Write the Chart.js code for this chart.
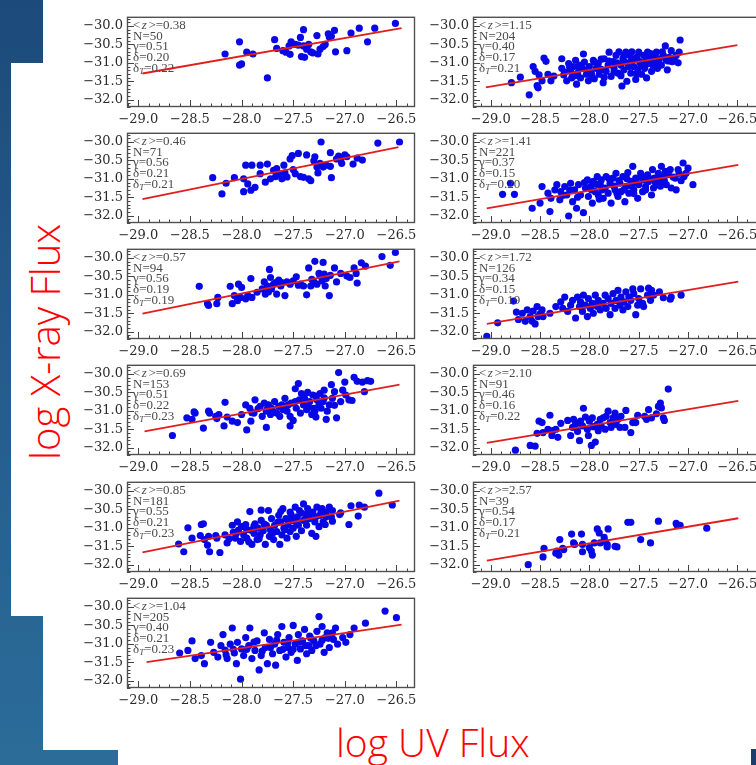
<!DOCTYPE html>
<html>
<head>
<meta charset="utf-8">
<script src="https://cdn.jsdelivr.net/npm/chart.js@4.4.1/dist/chart.umd.min.js"></script>
<style>
  html, body { margin:0; padding:0; }
  body { width:756px; height:765px; overflow:hidden; position:relative;
         background: linear-gradient(180deg, #1c4a7a 0%, #23598a 40%, #2b6c99 100%); }
  .w { position:absolute; background:#ffffff; }
  .navy { position:absolute; background:#1b3c6c; }
  canvas.panel { position:absolute; }
  .biglab { position:absolute; color:#ff0000; font-family:"Open Sans","DejaVu Sans",sans-serif;
            font-weight:300; font-size:39px; white-space:nowrap; line-height:1; }
</style>
</head>
<body>
<div class="w" style="left:43px;top:0;width:713px;height:63px"></div>
<div class="w" style="left:11px;top:63px;width:745px;height:553px"></div>
<div class="w" style="left:43px;top:616px;width:713px;height:134px"></div>
<div class="w" style="left:118px;top:750px;width:633px;height:15px"></div>
<div class="navy" style="left:751px;top:749px;width:5px;height:16px"></div>

<div class="biglab" id="ylab" style="font-size:40px">log X-ray Flux</div>
<div class="biglab" id="xlab">log UV Flux</div>

<script>
// ---------------- data ----------------
const yTicks = [-30.0, -30.5, -31.0, -31.5, -32.0];
const xTicks = [-29.0, -28.5, -28.0, -27.5, -27.0, -26.5];

const zMean  = ['0.38','0.46','0.57','0.69','0.85','1.04','1.15','1.41','1.72','2.10','2.57'];
const nObj   = ['50','71','94','153','181','205','204','221','126','91','39'];
const gamma  = ['0.51','0.56','0.56','0.51','0.55','0.40','0.40','0.37','0.34','0.46','0.54'];
const delta  = ['0.20','0.21','0.19','0.22','0.21','0.21','0.17','0.15','0.15','0.16','0.17'];
const deltaT = ['0.22','0.21','0.19','0.23','0.23','0.23','0.21','0.20','0.19','0.22','0.21'];

const fitStart = [[-28.96,-31.29],[-28.96,-31.55],[-28.96,-31.51],[-28.94,-31.56],[-28.96,-31.67],[-28.92,-31.50],
                  [-29.05,-31.67],[-29.04,-31.80],[-29.04,-31.79],[-29.04,-31.87],[-29.04,-31.89]];
const fitEnd   = [[-26.45,-30.06],[-26.48,-30.14],[-26.47,-30.09],[-26.47,-30.29],[-26.47,-30.26],[-26.45,-30.48],
                  [-26.50,-30.52],[-26.49,-30.62],[-26.49,-30.64],[-26.49,-30.73],[-26.49,-30.74]];

const sample038 = [[-28.16,-30.76],[-28.02,-30.43],[-28.02,-31.06],[-28.00,-31.03],[-27.95,-30.71],[-27.89,-30.76],
 [-27.75,-31.41],[-27.68,-30.37],[-27.66,-30.61],[-27.60,-30.67],[-27.57,-30.71],[-27.54,-30.54],[-27.53,-30.77],
 [-27.52,-30.43],[-27.48,-30.50],[-27.45,-30.52],[-27.43,-30.31],[-27.42,-30.83],[-27.40,-30.10],[-27.40,-30.54],
 [-27.39,-30.85],[-27.37,-30.63],[-27.35,-30.50],[-27.33,-30.70],[-27.31,-30.73],[-27.27,-30.26],[-27.26,-30.76],
 [-27.24,-30.63],[-27.21,-30.56],[-27.19,-30.50],[-27.16,-30.21],[-27.15,-30.30],[-27.13,-30.28],[-27.10,-30.12],
 [-27.09,-30.70],[-26.98,-30.67],[-26.94,-30.19],[-26.86,-30.06],[-26.78,-30.43],[-26.71,-30.06],[-26.51,-29.93]];

const sample046 = [[-28.28,-30.97],[-28.19,-31.41],[-28.15,-31.12],[-28.07,-30.97],[-27.98,-31.35],[-27.98,-31.00],
 [-27.96,-30.63],[-27.94,-31.14],[-27.91,-31.31],[-27.90,-30.63],[-27.87,-31.23],[-27.82,-30.63],[-27.82,-30.86],
 [-27.77,-31.09],[-27.75,-30.60],[-27.72,-31.00],[-27.69,-30.77],[-27.67,-30.94],[-27.66,-30.72],[-27.64,-30.86],
 [-27.61,-31.00],[-27.59,-30.63],[-27.58,-30.84],[-27.56,-30.95],[-27.53,-30.46],[-27.51,-30.37],[-27.50,-30.75],
 [-27.48,-30.86],[-27.45,-30.31],[-27.43,-30.94],[-27.40,-30.96],[-27.37,-30.35],[-27.35,-31.00],[-27.33,-31.05],
 [-27.30,-30.51],[-27.29,-30.40],[-27.27,-30.68],[-27.26,-30.84],[-27.24,-30.58],[-27.23,-30.00],[-27.21,-30.68],
 [-27.18,-30.63],[-27.14,-30.29],[-27.14,-30.66],[-27.13,-30.97],[-27.08,-30.46],[-27.06,-30.38],[-27.04,-30.48],
 [-27.03,-30.58],[-27.00,-30.35],[-26.98,-30.40],[-26.92,-30.60],[-26.88,-30.44],[-26.83,-30.49],[-26.68,-30.03],
 [-26.47,-30.00]];

const sample057 = [[-28.41,-30.77],[-28.33,-31.24],[-28.32,-31.29],[-28.24,-31.24],[-28.23,-31.07],[-28.11,-30.77],
 [-28.09,-31.24],[-28.07,-31.02],[-28.04,-31.16],[-28.03,-30.71],[-28.01,-31.07],[-28.00,-30.80],[-27.96,-31.11],
 [-27.94,-31.02],[-27.91,-30.56],[-27.90,-31.07],[-27.85,-30.93],[-27.80,-30.84],[-27.78,-30.65],[-27.77,-30.98],
 [-27.75,-30.76],[-27.74,-30.92],[-27.73,-30.31],[-27.72,-30.53],[-27.71,-30.84],[-27.69,-30.71],[-27.67,-30.67],
 [-27.66,-30.98],[-27.64,-30.60],[-27.62,-30.76],[-27.61,-30.67],[-27.58,-31.02],[-27.56,-30.65],[-27.53,-30.71],
 [-27.50,-30.62],[-27.47,-30.51],[-27.45,-30.74],[-27.43,-30.71],[-27.40,-30.76],[-27.37,-31.00],[-27.35,-30.27],
 [-27.33,-30.76],[-27.32,-30.58],[-27.30,-30.65],[-27.29,-30.09],[-27.27,-30.71],[-27.25,-30.42],[-27.24,-30.49],
 [-27.22,-30.62],[-27.21,-30.12],[-27.20,-30.44],[-27.19,-30.76],[-27.18,-30.56],[-27.15,-31.02],[-27.14,-30.47],
 [-27.10,-30.27],[-27.08,-30.65],[-27.04,-30.42],[-26.98,-30.49],[-26.95,-30.53],[-26.91,-30.27],[-26.89,-30.42],
 [-26.88,-30.68],[-26.84,-30.13],[-26.80,-30.22],[-26.64,-29.96],[-26.56,-30.20],[-26.51,-29.85]];

const sample069 = [[-28.67,-31.67],[-28.53,-31.19],[-28.48,-31.23],[-28.46,-31.03],[-28.45,-31.06],[-28.37,-31.47],
 [-28.32,-31.01],[-28.31,-31.06],[-28.25,-31.15],[-28.24,-31.21],[-28.22,-31.10],[-28.17,-31.41],[-28.16,-30.77],
 [-28.14,-31.17],[-28.09,-31.28],[-28.04,-31.32],[-28.00,-31.10],[-27.96,-30.84],[-27.95,-31.52],[-27.92,-30.93],
 [-27.91,-31.28],[-27.88,-31.06],[-27.87,-30.70],[-27.84,-30.94],[-27.82,-30.88],[-27.80,-31.15],[-27.78,-30.79],
 [-27.76,-31.01],[-27.76,-31.45],[-27.74,-30.84],[-27.72,-31.10],[-27.71,-30.93],[-27.69,-31.03],[-27.68,-30.75],
 [-27.66,-31.06],[-27.64,-30.88],[-27.63,-31.15],[-27.61,-30.84],[-27.60,-30.97],[-27.58,-30.66],[-27.56,-31.01],
 [-27.55,-30.84],[-27.53,-31.41],[-27.53,-31.15],[-27.52,-30.79],[-27.50,-31.26],[-27.48,-30.40],[-27.47,-30.93],
 [-27.45,-30.26],[-27.44,-30.70],[-27.43,-31.06],[-27.42,-30.53],[-27.40,-30.84],[-27.39,-30.66],[-27.37,-30.97],
 [-27.36,-30.50],[-27.34,-30.75],[-27.32,-31.10],[-27.31,-30.57],[-27.30,-30.93],[-27.29,-31.01],[-27.28,-31.17],
 [-27.27,-30.70],[-27.25,-30.84],[-27.24,-30.53],[-27.23,-30.93],[-27.21,-30.75],[-27.20,-30.44],[-27.18,-31.23],
 [-27.17,-31.01],[-27.15,-30.84],[-27.13,-30.29],[-27.12,-30.66],[-27.10,-30.48],[-27.08,-31.19],[-27.06,-29.96],
 [-27.04,-30.75],[-27.02,-30.44],[-27.00,-30.22],[-26.99,-30.57],[-26.96,-30.70],[-26.93,-30.72],[-26.91,-30.09],
 [-26.88,-30.20],[-26.83,-30.22],[-26.81,-30.48],[-26.78,-30.18],[-26.75,-30.20],
 [-27.60,-30.90],[-27.48,-30.75],[-27.35,-30.90],[-27.28,-30.60],[-27.20,-30.65],[-27.10,-30.85],[-27.90,-31.05],
 [-27.75,-30.95]];

const sample085 = [[-28.61,-31.44],[-28.56,-31.65],[-28.52,-31.00],[-28.48,-31.28],[-28.40,-31.21],[-28.39,-30.91],
 [-28.37,-30.89],[-28.36,-31.32],[-28.33,-31.47],[-28.32,-31.23],[-28.31,-31.65],[-28.25,-31.21],[-28.24,-31.28],
 [-28.21,-31.67],[-28.16,-31.19],[-28.14,-31.41],[-28.09,-30.93],[-28.08,-31.12],[-28.06,-31.28],[-28.04,-30.84],
 [-28.03,-31.06],[-28.01,-31.37],[-28.00,-30.97],[-27.98,-31.19],[-27.96,-30.91],[-27.95,-31.28],[-27.92,-30.56],
 [-27.91,-31.06],[-27.90,-31.45],[-27.88,-31.15],[-27.87,-30.89],[-27.85,-31.32],[-27.84,-31.01],[-27.82,-31.19],
 [-27.81,-30.52],[-27.81,-30.80],[-27.79,-31.08],[-27.77,-31.45],[-27.76,-30.93],[-27.74,-30.53],[-27.73,-31.23],
 [-27.72,-31.06],[-27.71,-30.75],[-27.69,-31.32],[-27.68,-30.93],[-27.66,-31.10],[-27.64,-30.66],[-27.63,-31.45],
 [-27.62,-30.84],[-27.61,-31.19],[-27.60,-30.48],[-27.59,-31.01],[-27.57,-30.75],[-27.56,-31.28],[-27.55,-30.91],
 [-27.53,-30.57],[-27.53,-31.10],[-27.51,-30.80],[-27.50,-31.01],[-27.48,-30.44],[-27.47,-31.23],[-27.46,-30.70],
 [-27.45,-30.93],[-27.44,-30.53],[-27.42,-31.08],[-27.40,-30.35],[-27.40,-30.80],[-27.38,-30.64],[-27.37,-30.93],
 [-27.36,-30.48],[-27.34,-30.75],[-27.32,-31.15],[-27.31,-30.57],[-27.29,-30.84],[-27.28,-31.23],[-27.27,-30.44],
 [-27.25,-30.97],[-27.24,-30.66],[-27.22,-30.48],[-27.21,-30.84],[-27.19,-30.91],[-27.18,-30.57],[-27.15,-30.44],
 [-27.13,-30.70],[-27.12,-30.53],[-27.05,-30.64],[-27.04,-30.59],[-26.96,-30.91],[-26.94,-30.40],[-26.87,-30.68],
 [-26.86,-30.38],[-26.81,-30.44],[-26.67,-30.06],[-26.54,-30.38],
 [-27.95,-31.05],[-27.88,-30.95],[-27.83,-31.30],[-27.78,-30.90],[-27.70,-31.15],[-27.65,-30.85],[-27.58,-31.05],
 [-27.52,-30.65],[-27.47,-30.85],[-27.42,-30.60],[-27.38,-30.80],[-27.33,-30.60],[-27.28,-30.70],[-27.23,-30.58],
 [-27.18,-30.70],[-27.12,-30.82],[-28.05,-31.15],[-28.12,-31.30],[-27.93,-31.38],[-27.62,-30.55]];

const sample104 = [[-28.60,-31.25],[-28.52,-31.18],[-28.48,-30.92],[-28.45,-31.40],[-28.39,-31.32],[-28.36,-31.54],
 [-28.30,-30.96],[-28.27,-31.23],[-28.23,-31.36],[-28.18,-30.75],[-28.16,-31.17],[-28.14,-31.40],[-28.11,-31.01],
 [-28.09,-30.57],[-28.07,-31.25],[-28.05,-31.54],[-28.04,-30.96],[-28.01,-31.96],[-28.00,-31.14],[-27.98,-31.32],
 [-27.96,-30.83],[-27.93,-31.05],[-27.92,-30.57],[-27.90,-31.40],[-27.87,-31.18],[-27.85,-30.92],[-27.83,-31.71],
 [-27.81,-31.32],[-27.78,-30.70],[-27.77,-31.10],[-27.75,-31.54],[-27.73,-30.88],[-27.70,-31.27],[-27.68,-31.01],
 [-27.67,-31.58],[-27.65,-30.75],[-27.63,-31.18],[-27.61,-30.53],[-27.59,-30.96],[-27.57,-31.36],[-27.55,-31.10],
 [-27.54,-30.83],[-27.52,-31.23],[-27.50,-30.50],[-27.48,-31.01],[-27.46,-31.45],[-27.45,-30.75],[-27.43,-31.14],
 [-27.41,-30.92],[-27.39,-30.61],[-27.37,-31.27],[-27.35,-31.05],[-27.34,-30.79],[-27.32,-31.18],[-27.30,-30.92],
 [-27.27,-30.66],[-27.25,-30.26],[-27.24,-31.01],[-27.22,-30.53],[-27.20,-31.23],[-27.19,-30.83],[-27.17,-30.70],
 [-27.15,-31.10],[-27.11,-30.88],[-27.09,-30.57],[-27.07,-31.01],[-27.02,-30.83],[-26.99,-30.96],[-26.95,-30.75],
 [-26.91,-30.57],[-26.80,-30.44],[-26.61,-30.11],[-26.50,-30.29],
 [-27.95,-31.15],[-27.88,-30.95],[-27.80,-31.20],[-27.72,-31.10],[-27.66,-30.90],[-27.60,-31.15],[-27.55,-30.95],
 [-27.50,-31.15],[-27.44,-30.95],[-27.38,-31.05],[-27.33,-30.85],[-27.28,-31.05],[-27.22,-30.90],[-27.16,-30.85],
 [-27.12,-30.70],[-28.08,-31.15],[-28.15,-31.30],[-28.20,-31.05]];

const sample115 = [[-28.79,-31.54],[-28.70,-31.39],[-28.61,-31.87],[-28.57,-31.10],[-28.55,-31.23],[-28.53,-31.62],
 [-28.52,-31.68],[-28.51,-31.33],[-28.48,-31.49],[-28.46,-30.87],[-28.44,-30.96],[-28.42,-31.31],[-28.39,-31.49],
 [-28.36,-31.36],[-28.28,-30.89],[-28.28,-31.15],[-28.26,-31.33],[-28.23,-31.49],[-28.21,-31.02],[-28.19,-31.23],
 [-28.18,-31.41],[-28.16,-31.10],[-28.14,-30.93],[-28.13,-31.58],[-28.12,-31.28],[-28.10,-31.06],[-28.09,-31.41],
 [-28.07,-31.15],[-28.06,-30.76],[-28.05,-30.98],[-28.03,-31.31],[-28.01,-31.49],[-28.00,-31.10],[-27.98,-31.28],
 [-27.96,-30.93],[-27.95,-31.43],[-27.93,-31.15],[-27.91,-31.02],[-27.90,-31.31],[-27.88,-31.18],[-27.86,-31.54],
 [-27.85,-30.89],[-27.83,-31.23],[-27.81,-31.06],[-27.80,-30.71],[-27.78,-31.37],[-27.76,-30.97],[-27.75,-31.15],
 [-27.73,-30.80],[-27.71,-31.28],[-27.70,-30.70],[-27.68,-31.06],[-27.67,-31.63],[-27.66,-30.89],[-27.65,-31.19],
 [-27.63,-30.71],[-27.62,-31.50],[-27.61,-31.02],[-27.59,-30.80],[-27.58,-31.28],[-27.57,-30.70],[-27.55,-31.10],
 [-27.53,-31.45],[-27.52,-30.85],[-27.51,-31.19],[-27.50,-30.71],[-27.49,-30.97],[-27.47,-31.31],[-27.45,-30.80],
 [-27.44,-31.15],[-27.42,-31.41],[-27.41,-30.71],[-27.40,-31.02],[-27.38,-30.85],[-27.37,-31.23],[-27.35,-30.97],
 [-27.32,-30.71],[-27.31,-31.15],[-27.29,-30.89],[-27.27,-31.06],[-27.25,-30.80],[-27.23,-30.54],[-27.22,-30.93],
 [-27.21,-31.19],[-27.19,-30.85],[-27.17,-30.67],[-27.16,-30.97],[-27.12,-30.80],[-27.10,-31.00],[-27.09,-30.71],
 [-27.08,-30.38],
 [-27.95,-30.98],[-27.88,-30.90],[-27.80,-30.95],[-27.72,-31.00],[-27.65,-30.95],[-27.60,-31.10],[-27.55,-30.90],
 [-27.48,-31.05],[-27.42,-30.90],[-27.35,-31.10],[-27.30,-31.00],[-27.26,-30.70],[-27.20,-30.95],[-27.14,-30.90],
 [-27.65,-30.80],[-27.58,-30.95],[-27.52,-31.30],[-27.45,-31.00],[-27.38,-30.75],[-27.33,-30.85],[-27.90,-31.20],
 [-27.85,-31.40],[-27.98,-31.35],[-28.02,-31.20],[-28.10,-31.15],[-28.20,-31.12],[-28.25,-31.25],[-28.15,-31.35],
 [-27.75,-31.25],[-27.68,-31.35]];

const sample141 = [[-28.88,-31.42],[-28.80,-31.12],[-28.76,-31.42],[-28.58,-31.80],[-28.50,-31.66],[-28.48,-31.21],
 [-28.42,-31.39],[-28.40,-31.89],[-28.39,-31.53],[-28.35,-31.30],[-28.33,-31.16],[-28.30,-31.57],[-28.29,-31.35],
 [-28.25,-31.21],[-28.23,-31.44],[-28.21,-32.01],[-28.19,-31.12],[-28.17,-31.62],[-28.15,-31.30],[-28.13,-31.80],
 [-28.11,-31.16],[-28.09,-31.44],[-28.06,-31.92],[-28.04,-31.25],[-28.02,-31.03],[-28.01,-31.48],[-27.99,-31.21],
 [-27.97,-31.66],[-27.96,-31.07],[-27.94,-31.35],[-27.92,-30.94],[-27.91,-31.44],[-27.89,-31.16],[-27.88,-31.03],
 [-27.86,-31.53],[-27.84,-31.25],[-27.83,-30.94],[-27.81,-31.39],[-27.79,-31.12],[-27.78,-31.66],[-27.76,-30.98],
 [-27.74,-31.30],[-27.73,-30.85],[-27.71,-31.48],[-27.69,-31.12],[-27.68,-31.35],[-27.66,-30.94],[-27.64,-31.62],
 [-27.63,-31.21],[-27.61,-30.83],[-27.60,-31.39],[-27.58,-31.07],[-27.56,-30.66],[-27.55,-31.30],[-27.53,-30.98],
 [-27.51,-31.53],[-27.50,-31.16],[-27.48,-30.85],[-27.46,-31.35],[-27.45,-31.03],[-27.43,-31.21],[-27.41,-30.89],
 [-27.40,-31.07],[-27.37,-31.44],[-27.36,-30.75],[-27.34,-30.98],[-27.32,-31.16],[-27.30,-30.85],[-27.28,-31.03],
 [-27.27,-30.66],[-27.25,-30.94],[-27.23,-30.80],[-27.22,-31.16],[-27.20,-30.89],[-27.18,-30.75],[-27.17,-31.25],
 [-27.13,-30.98],[-27.12,-31.30],[-27.09,-30.85],[-27.05,-30.57],[-27.04,-30.94],[-27.00,-30.71],[-26.95,-31.16],
 [-28.05,-31.10],[-27.98,-31.30],[-27.93,-31.15],[-27.87,-31.30],[-27.80,-31.00],[-27.75,-31.20],[-27.70,-31.05],
 [-27.65,-31.30],[-27.62,-31.00],[-27.57,-31.20],[-27.52,-31.10],[-27.47,-30.95],[-27.43,-31.30],[-27.38,-31.00],
 [-27.33,-31.10],[-27.29,-30.95],[-27.24,-31.05],[-27.20,-30.80],[-27.15,-30.95],[-27.10,-30.75],[-27.07,-31.05],
 [-27.02,-30.85],[-28.20,-31.30],[-28.27,-31.45],[-28.12,-31.50],[-27.90,-31.55],[-27.72,-31.40],[-27.55,-31.40],
 [-27.35,-31.25],[-27.28,-31.20]];

const sample172 = [[-29.04,-32.13],[-28.93,-31.76],[-28.77,-31.17],[-28.74,-31.47],[-28.72,-31.67],[-28.68,-31.50],
 [-28.65,-31.72],[-28.63,-31.41],[-28.60,-31.59],[-28.58,-31.72],[-28.57,-31.44],[-28.55,-31.79],[-28.53,-31.32],
 [-28.52,-31.59],[-28.50,-31.52],[-28.48,-31.41],[-28.47,-31.59],[-28.40,-31.50],[-28.34,-31.32],[-28.29,-31.19],
 [-28.27,-31.37],[-28.25,-31.06],[-28.22,-31.45],[-28.19,-31.28],[-28.17,-31.15],[-28.14,-31.63],[-28.12,-31.06],
 [-28.10,-31.32],[-28.09,-31.19],[-28.07,-31.45],[-28.06,-31.01],[-28.04,-31.28],[-28.02,-31.59],[-28.01,-31.10],
 [-27.99,-31.37],[-27.97,-31.23],[-27.96,-31.50],[-27.94,-31.01],[-27.92,-31.32],[-27.91,-31.15],[-27.89,-31.41],
 [-27.86,-31.23],[-27.84,-31.01],[-27.83,-31.37],[-27.81,-31.10],[-27.79,-31.54],[-27.78,-31.23],[-27.76,-30.97],
 [-27.74,-31.37],[-27.73,-31.15],[-27.71,-30.88],[-27.69,-31.28],[-27.68,-31.06],[-27.66,-31.41],[-27.65,-31.19],
 [-27.63,-30.92],[-27.61,-31.32],[-27.60,-31.06],[-27.58,-31.15],[-27.56,-30.84],[-27.55,-30.97],[-27.53,-31.54],
 [-27.51,-31.28],[-27.50,-31.10],[-27.48,-30.84],[-27.46,-31.23],[-27.45,-31.32],[-27.41,-31.01],[-27.40,-30.82],
 [-27.38,-31.15],[-27.37,-30.88],[-27.35,-31.01],[-27.29,-30.92],[-27.25,-31.08],[-27.18,-31.12],[-27.17,-31.06],
 [-27.07,-31.01]];

const sample210 = [[-28.75,-32.07],[-28.60,-31.94],[-28.55,-31.96],[-28.53,-31.61],[-28.51,-31.28],[-28.48,-31.32],
 [-28.47,-31.59],[-28.42,-31.50],[-28.40,-31.12],[-28.38,-31.67],[-28.37,-31.54],[-28.34,-31.50],[-28.32,-31.72],
 [-28.29,-31.34],[-28.22,-31.26],[-28.19,-31.67],[-28.17,-31.45],[-28.16,-31.23],[-28.14,-31.37],[-28.12,-31.56],
 [-28.10,-31.81],[-28.09,-31.28],[-28.07,-31.41],[-28.06,-30.93],[-28.04,-31.17],[-28.02,-31.50],[-28.01,-31.67],
 [-28.00,-31.28],[-27.98,-31.94],[-27.97,-31.19],[-27.96,-31.43],[-27.94,-31.85],[-27.92,-31.37],[-27.91,-31.54],
 [-27.89,-31.23],[-27.88,-31.41],[-27.86,-31.19],[-27.84,-31.50],[-27.83,-31.15],[-27.81,-31.01],[-27.79,-31.32],
 [-27.78,-31.45],[-27.76,-31.19],[-27.74,-31.06],[-27.73,-31.37],[-27.71,-31.23],[-27.69,-31.45],[-27.68,-31.15],
 [-27.64,-31.45],[-27.63,-30.99],[-27.58,-31.59],[-27.56,-31.32],[-27.53,-31.32],[-27.51,-31.12],[-27.44,-31.15],
 [-27.42,-31.23],[-27.40,-30.97],[-27.37,-31.19],[-27.32,-31.08],[-27.30,-30.88],[-27.28,-30.79],[-27.27,-30.92],
 [-27.25,-31.19],[-27.24,-31.26],[-27.20,-30.41]];

const sample257 = [[-28.62,-32.00],[-28.47,-31.79],[-28.46,-31.56],[-28.34,-31.69],[-28.33,-31.63],[-28.31,-31.74],
 [-28.30,-31.32],[-28.27,-31.56],[-28.26,-31.59],[-28.18,-31.17],[-28.16,-31.41],[-28.15,-31.45],[-28.08,-31.17],
 [-28.07,-31.45],[-28.07,-31.65],[-28.00,-31.54],[-27.98,-31.63],[-27.97,-31.74],[-27.95,-31.41],[-27.92,-31.03],
 [-27.90,-31.14],[-27.89,-31.41],[-27.85,-31.26],[-27.84,-31.37],[-27.82,-31.45],[-27.82,-31.52],[-27.81,-31.03],
 [-27.74,-31.50],[-27.72,-31.52],[-27.61,-30.85],[-27.58,-30.85],[-27.48,-31.32],[-27.38,-31.41],[-27.30,-30.82],
 [-27.12,-30.88],[-27.11,-30.93],[-27.08,-30.93],[-26.81,-31.01]];

const samples = [sample038, sample046, sample057, sample069, sample085, sample104,
                 sample115, sample141, sample172, sample210, sample257];

// axis limits per column
const leftXRange  = [-29.11, -26.32];
const rightXRange = [-29.18, -26.27];
const yRange = [-32.2, -29.75];

// ---------------- layout ----------------
const rowTops = [13, 129, 245, 361, 478, 594];
const FRAME_H = 94, TOP_PAD = 8, X_AXIS_H = 23;
const CANVAS_W = 360;

function fmt(v){ return (v < 0 ? '\u2212' : '') + Math.abs(v).toFixed(1); }

const panelPlugin = {
  id: 'panelDeco',
  afterDraw(chart, args, opts) {
    const ctx = chart.ctx, a = chart.chartArea;
    const xs = chart.scales.x, ys = chart.scales.y;
    ctx.save();
    // inside ticks
    ctx.strokeStyle = '#444';
    ctx.lineWidth = 1;
    ctx.beginPath();
    for (let k = Math.ceil(xs.min * 10); k <= Math.floor(xs.max * 10); k++) {
      const px = Math.round(xs.getPixelForValue(k / 10)) + 0.5;
      const len = (k % 5 === 0) ? 7 : 3.5;
      ctx.moveTo(px, a.bottom); ctx.lineTo(px, a.bottom - len);
    }
    for (let k = Math.ceil(ys.min * 10); k <= Math.floor(ys.max * 10); k++) {
      const py = Math.round(ys.getPixelForValue(k / 10)) + 0.5;
      const len = (k % 5 === 0) ? 7 : 3.5;
      ctx.moveTo(a.left, py); ctx.lineTo(a.left + len, py);
    }
    ctx.stroke();
    // frame
    ctx.strokeStyle = '#505050';
    ctx.lineWidth = 1.4;
    ctx.strokeRect(a.left + 0.5, a.top + 0.5, a.right - a.left - 1, a.bottom - a.top - 1);
    // stats text
    const i = opts.idx;
    const fam = '"Liberation Serif", "DejaVu Serif", serif';
    const base = '13px ' + fam;
    ctx.fillStyle = '#4a4a4a';
    ctx.textBaseline = 'middle';
    ctx.textAlign = 'left';
    const lines = [
      [['<', base], ['z', 'italic 13px ' + fam], ['>=' + zMean[i], base]],
      [['N=' + nObj[i], base]],
      [['\u03b3=' + gamma[i], base]],
      [['\u03b4=' + delta[i], base]],
      [['\u03b4', base], ['T', 'italic 9px ' + fam, 3], ['=' + deltaT[i], base]]
    ];
    const x0 = a.left + 6;
    lines.forEach((segs, li) => {
      let x = x0;
      const y = a.top + 9 + li * 10.6;
      segs.forEach(s => {
        ctx.font = s[1];
        ctx.fillText(s[0], x, y + (s[2] || 0));
        x += ctx.measureText(s[0]).width + (s[0] === '<' || s[0] === 'z' ? 1.5 : 0);
      });
    });
    ctx.restore();
  }
};

function makePanel(i) {
  const right = i >= 6;
  const row = right ? i - 6 : i;
  const cv = document.createElement('canvas');
  cv.className = 'panel';
  cv.width = CANVAS_W; cv.height = TOP_PAD + FRAME_H + X_AXIS_H;
  cv.style.width = CANVAS_W + 'px'; cv.style.height = cv.height + 'px';
  const left = right ? 420 : 70;
  cv.style.left = left + 'px';
  cv.style.top = (rowTops[row] - TOP_PAD) + 'px';
  document.body.appendChild(cv);
  const yAxisW = right ? 53 : 57;
  const frameRight = right ? 760 : 415;
  const xr = right ? rightXRange : leftXRange;
  new Chart(cv.getContext('2d'), {
    type: 'scatter',
    data: {
      datasets: [
        { data: [{x: fitStart[i][0], y: fitStart[i][1]}, {x: fitEnd[i][0], y: fitEnd[i][1]}],
          showLine: true, borderColor: '#e21d1d', borderWidth: 1.8, pointRadius: 0, order: 0 },
        { data: samples[i].map(p => ({x: p[0], y: p[1]})),
          backgroundColor: '#0808e6', borderWidth: 0, pointRadius: 3.6, order: 1 }
      ]
    },
    options: {
      responsive: false, animation: false, devicePixelRatio: 1,
      layout: { padding: { top: TOP_PAD, right: CANVAS_W - (frameRight - left), left: 0, bottom: 0 } },
      plugins: { legend: { display: false }, tooltip: { enabled: false }, panelDeco: { idx: i } },
      scales: {
        x: {
          type: 'linear', min: xr[0], max: xr[1],
          afterFit(s) { s.height = X_AXIS_H; },
          afterBuildTicks(s) { s.ticks = xTicks.map(v => ({ value: v })); },
          grid: { display: false, drawTicks: false }, border: { display: false },
          ticks: { callback: v => fmt(v), autoSkip: false, maxRotation: 0, minRotation: 0,
                   font: { family: 'DejaVu Serif', size: 13 }, color: '#2a2a2a', padding: 5 }
        },
        y: {
          type: 'linear', min: yRange[0], max: yRange[1],
          afterFit(s) { s.width = yAxisW; },
          afterBuildTicks(s) { s.ticks = yTicks.map(v => ({ value: v })); },
          grid: { display: false, drawTicks: false }, border: { display: false },
          ticks: { callback: v => fmt(v), autoSkip: false,
                   font: { family: 'DejaVu Serif', size: 13 }, color: '#2a2a2a', padding: 4 }
        }
      }
    },
    plugins: [panelPlugin]
  });
}

for (let i = 0; i < samples.length; i++) makePanel(i);

// big axis labels
const ylab = document.getElementById('ylab');
const xlab = document.getElementById('xlab');
xlab.style.left = '336px'; xlab.style.top = '722px';
ylab.style.transformOrigin = '0 0';
ylab.style.transform = 'rotate(-90deg)';
ylab.style.left = '25px'; ylab.style.top = '460px';
</script>
</body>
</html>
